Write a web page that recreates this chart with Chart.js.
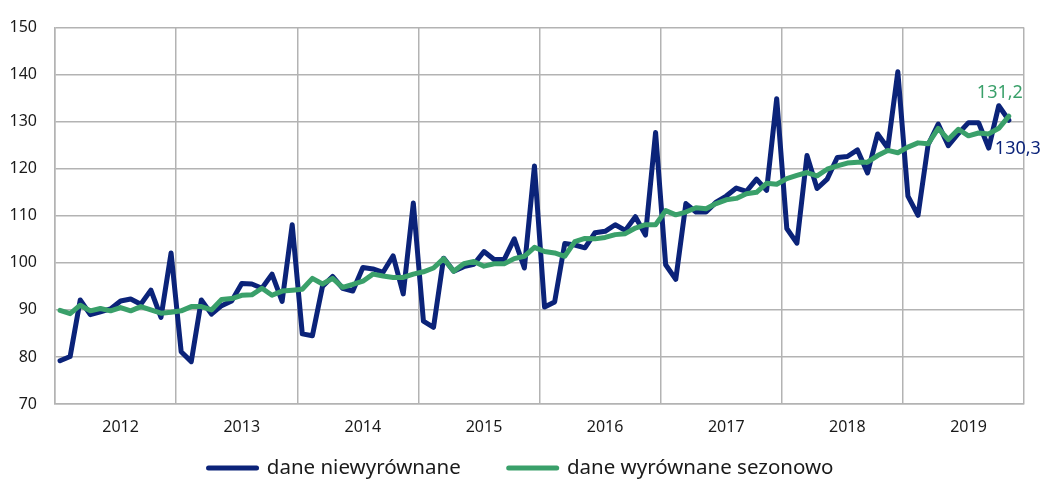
<!DOCTYPE html>
<html><head><meta charset="utf-8">
<style>html,body{margin:0;padding:0;background:#fff}#wrap{width:1043px;height:481px}</style>
<script src="https://cdn.jsdelivr.net/npm/chart.js@4"></script>
</head><body><div id="wrap"><canvas id="c" width="1043" height="481"></canvas></div>
<script>
const years = ['2012','2013','2014','2015','2016','2017','2018','2019'];
const months = ['01','02','03','04','05','06','07','08','09','10','11','12'];
const seriesNames = ['dane niewyrównane', 'dane wyrównane sezonowo'];
const unadjusted = [
  79.2, 80.1, 92.1, 89.0, 89.6, 90.2, 91.9, 92.3, 91.2, 94.2, 88.4, 102.1,
  81.1, 79.0, 92.1, 89.1, 90.9, 91.9, 95.6, 95.5, 94.6, 97.6, 91.8, 108.1,
  84.9, 84.5, 95.0, 97.1, 94.6, 94.0, 99.0, 98.7, 98.0, 101.5, 93.4, 112.7,
  87.6, 86.3, 101.0, 98.2, 99.2, 99.7, 102.4, 100.7, 100.7, 105.1, 98.9, 120.6,
  90.6, 91.7, 104.1, 103.8, 103.2, 106.4, 106.7, 108.1, 106.9, 109.8, 105.9, 127.7,
  99.6, 96.5, 112.6, 110.8, 110.8, 112.9, 114.2, 115.9, 115.2, 117.8, 115.4, 134.9,
  107.3, 104.2, 122.8, 115.8, 117.8, 122.4, 122.6, 124.0, 119.1, 127.4, 124.4, 140.6,
  114.2, 110.1, 125.1, 129.5, 124.9, 127.5, 129.8, 129.8, 124.4, 133.4, 130.3
];
const adjusted = [
  89.9, 89.2, 91.0, 89.8, 90.3, 89.8, 90.5, 89.8, 90.7, 90.0, 89.3, 89.5,
  89.8, 90.7, 90.7, 90.0, 92.2, 92.4, 93.1, 93.2, 94.6, 93.1, 94.0, 94.2,
  94.4, 96.7, 95.5, 96.7, 94.8, 95.4, 96.1, 97.6, 97.2, 96.9, 96.9, 97.6,
  98.1, 98.9, 100.9, 98.2, 99.8, 100.3, 99.3, 99.8, 99.8, 100.9, 101.4, 103.3,
  102.4, 102.1, 101.4, 104.5, 105.2, 105.1, 105.4, 106.0, 106.2, 107.4, 108.1, 108.1,
  111.1, 110.2, 110.8, 111.7, 111.5, 112.6, 113.4, 113.7, 114.7, 115.0, 116.9, 116.7,
  117.9, 118.6, 119.2, 118.5, 119.9, 120.6, 121.2, 121.4, 121.4, 122.8, 123.9, 123.4,
  124.6, 125.5, 125.3, 128.6, 126.2, 128.4, 127.0, 127.6, 127.4, 128.6, 131.2
];
const yMin = 70, yMax = 150, yStep = 10;

const labels = years.flatMap(y => months.map(m => y + '-' + m));
const FONT = '"Noto Sans", sans-serif';
const BLUE = '#0b2379';
const GREEN = '#3aa06a';
const GRID = '#b3b3b3';
const TEXT = '#1a1a1a';
const labelOffsets = [[9, 29], [-9, -23]];
const LEGEND_PAD = 48;
const LEGEND_CENTER_Y = 468;
const LEGEND_SHIFT_X = 9;

const endLabels = {
  id: 'endLabels',
  afterDatasetsDraw(chart) {
    const ctx = chart.ctx;
    chart.data.datasets.forEach((ds, i) => {
      const meta = chart.getDatasetMeta(i);
      const last = ds.data.length - 1;
      const pt = meta.data[last];
      if (!pt) return;
      ctx.save();
      ctx.font = '18px ' + FONT;
      ctx.fillStyle = ds.borderColor;
      ctx.textAlign = 'center';
      ctx.textBaseline = 'middle';
      ctx.fillText(ds.data[last].toFixed(1).replace('.', ','), pt.x + labelOffsets[i][0], pt.y + labelOffsets[i][1]);
      ctx.restore();
    });
  }
};

// raises the legend's top edge so its row sits at LEGEND_CENTER_Y while keeping a wide gap between items
const legendShift = {
  id: 'legendShift',
  afterLayout(chart) {
    const lg = chart.legend;
    if (!lg) return;
    const size = lg.options.labels.font.size;
    const cur = lg.top + LEGEND_PAD + size / 2;
    lg.top += LEGEND_CENTER_Y - cur;
    lg.left += LEGEND_SHIFT_X;
    lg.right += LEGEND_SHIFT_X;
  }
};

new Chart(document.getElementById('c'), {
  type: 'line',
  data: {
    labels: labels,
    datasets: [
      { label: seriesNames[0], data: unadjusted, borderColor: BLUE, backgroundColor: BLUE, borderWidth: 5,
        pointRadius: 0, pointHoverRadius: 0, tension: 0, borderJoinStyle: 'round', borderCapStyle: 'round', order: 1, pointStyle: 'line' },
      { label: seriesNames[1], data: adjusted, borderColor: GREEN, backgroundColor: GREEN, borderWidth: 5,
        pointRadius: 0, pointHoverRadius: 0, tension: 0, borderJoinStyle: 'round', borderCapStyle: 'round', order: 0, pointStyle: 'line' }
    ]
  },
  options: {
    responsive: false,
    animation: false,
    events: [],
    layout: { padding: { top: 24, right: 19, left: 0, bottom: 0 } },
    plugins: {
      tooltip: { enabled: false },
      legend: {
        position: 'bottom',
        maxHeight: 32,
        labels: {
          usePointStyle: true,
          pointStyleWidth: 48,
          padding: LEGEND_PAD,
          color: TEXT,
          font: { family: FONT, size: 20.5 },
          sort: (a, b) => a.datasetIndex - b.datasetIndex,
          generateLabels: (chart) => Chart.defaults.plugins.legend.labels.generateLabels(chart).map(l => {
            const ds = chart.data.datasets[l.datasetIndex];
            return Object.assign(l, { pointStyle: 'line', lineWidth: 5, lineCap: 'round', strokeStyle: ds.borderColor, fillStyle: ds.borderColor });
          })
        }
      }
    },
    scales: {
      x: {
        type: 'category',
        offset: true,
        grid: {
          offset: true,
          drawTicks: false,
          lineWidth: 1.5,
          color: c => (c.type !== 'tick' || c.index % 12 === 0) ? GRID : 'rgba(0,0,0,0)'
        },
        border: { display: true, color: GRID, width: 1.5 },
        ticks: {
          autoSkip: false, maxRotation: 0, minRotation: 0, padding: 14,
          color: TEXT, font: { family: FONT, size: 16 },
          callback: (v, i) => (i % 12 === 6) ? years[Math.floor(i / 12)] : ''
        },
        afterFit: s => { s.height = 45; }
      },
      y: {
        min: yMin, max: yMax,
        ticks: { stepSize: yStep, padding: 18, color: TEXT, font: { family: FONT, size: 16 } },
        grid: { drawTicks: false, color: GRID, lineWidth: 1.5 },
        border: { display: true, color: GRID, width: 1.5 },
        afterFit: s => { s.width = 55; }
      }
    }
  },
  plugins: [endLabels, legendShift]
});
</script>
</body></html>
